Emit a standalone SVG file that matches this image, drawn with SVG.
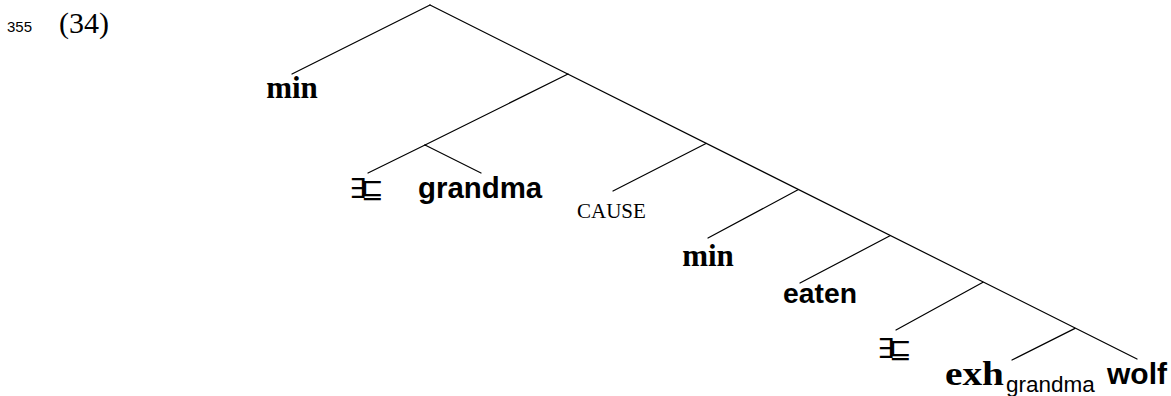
<svg xmlns="http://www.w3.org/2000/svg" width="1171" height="396" viewBox="0 0 1171 396">
<style>
.e{stroke:#000;stroke-width:1.2;fill:none;stroke-linecap:round}
.sb{font-family:"Liberation Sans",Arial,sans-serif;font-weight:bold;fill:#000}
.rb{font-family:"Liberation Serif","Times New Roman",serif;font-weight:bold;font-size:31px;fill:#000}
.r{font-family:"Liberation Serif","Times New Roman",serif;font-size:30px;fill:#000}
.sm{font-family:"DejaVu Sans",sans-serif;font-size:27px;fill:#000}
</style>
<rect width="1171" height="396" fill="#fff"/>
<g id="header">
<text x="7" y="32" style="font-family:'Liberation Sans',Arial,sans-serif;font-size:15px">355</text>
<text x="59" y="33" class="r">(34)</text>
</g>
<g id="connectors">
<line class="e" x1="430" y1="5" x2="1137" y2="359"/>
<line class="e" x1="430" y1="5" x2="292" y2="74"/>
<line class="e" x1="568" y1="74" x2="425" y2="145"/>
<line class="e" x1="425" y1="145" x2="368" y2="173"/>
<line class="e" x1="425" y1="145" x2="481" y2="173"/>
<line class="e" x1="706" y1="143.5" x2="613" y2="191"/>
<line class="e" x1="798" y1="189.8" x2="708" y2="238"/>
<line class="e" x1="890" y1="235.8" x2="800" y2="283"/>
<line class="e" x1="983" y1="282.3" x2="896" y2="330"/>
<line class="e" x1="1075" y1="328.4" x2="1012" y2="360"/>
</g>
<g id="n-min1"><text x="292" y="98" class="rb" text-anchor="middle">min</text></g>
<g id="n-exists1"><text x="349" y="198" class="sm">∃<tspan x="361">⊑</tspan></text></g>
<g id="n-grandma"><text x="418" y="198" class="sb" style="font-size:29.4px">grandma</text></g>
<g id="n-cause"><text x="577" y="218" style="font-family:'Liberation Serif','Times New Roman',serif;font-size:21px">CAUSE</text></g>
<g id="n-min2"><text x="708" y="266" class="rb" text-anchor="middle">min</text></g>
<g id="n-eaten"><text x="783" y="303" class="sb" style="font-size:28.3px">eaten</text></g>
<g id="n-exists2"><text x="877" y="358" class="sm">∃<tspan x="889">⊑</tspan></text></g>
<g id="n-exh"><text x="945" y="385" class="rb" style="font-size:34px" textLength="59" lengthAdjust="spacingAndGlyphs">exh</text><text x="1006" y="392" style="font-family:'Liberation Sans',Arial,sans-serif;font-size:22.5px">grandma</text></g>
<g id="n-wolf"><text x="1107" y="384" class="sb" style="font-size:30px">wolf</text></g>
</svg>
